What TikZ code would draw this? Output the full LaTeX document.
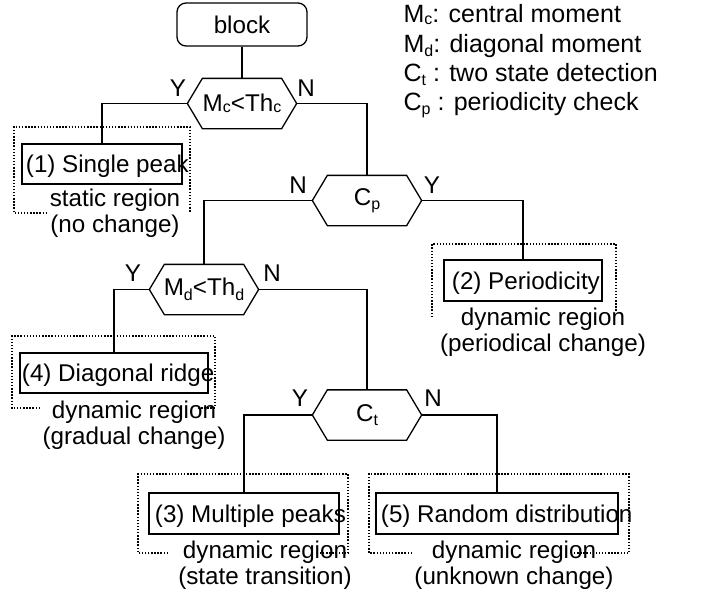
\documentclass[tikz,border=0pt]{standalone}
\usepackage{fontspec}
\setmainfont{Liberation Sans}
\newcommand{\lsubc}[1]{\raisebox{-1.2pt}{\fontsize{16}{16}\selectfont #1}}
\newcommand{\lsubd}[1]{\raisebox{-4.5pt}{\fontsize{16}{16}\selectfont #1}}
\newcommand{\hexnode}[3]{%
  \node[hexbox] (#1) at (#2) {#3};
  \draw (#1.west) -- ([xshift=15pt]#1.north west) -- ([xshift=-15pt]#1.north east)
        -- (#1.east) -- ([xshift=-15pt]#1.south east) -- ([xshift=15pt]#1.south west) -- cycle;}
\begin{document}
\begin{tikzpicture}[x=1pt,y=-1pt,line width=1.3pt,
  every node/.style={font=\fontsize{24.2}{25.5}\selectfont, inner sep=0pt},
  hexbox/.style={minimum width=108pt, minimum height=49pt},
  boxn/.style={draw, line width=1.5pt},
  txt/.style={anchor=base west},
  lab/.style={align=center},
  yn/.style={},
  leg/.style={anchor=base west, font=\fontsize{25}{25}\selectfont},
  dotbox/.style={line width=1.1pt, dash pattern=on 1.4pt off 1.7pt}]
\useasboundingbox (0,0) rectangle (707,597);

% legend
\node[leg] (l1) at (403,23) {M\lsubc{c}: central moment};
\node[leg] (l2) at (403,52) {M\lsubd{d}: diagonal moment};
\node[leg] (l3) at (403,81) {C\lsubd{t} : two state detection};
\node[leg] (l4) at (403,110) {C\lsubd{p} : periodicity check};

% top block
\node[draw, rounded corners=9pt, minimum width=130pt, minimum height=43pt, line width=1.3pt] (blk) at (242,24.5) {block};

% decisions
\hexnode{mc}{242,103.5}{M\lsubc{c}<Th\lsubc{c}}
\hexnode{cp}{367,200.5}{C\lsubd{p}}
\hexnode{md}{204,289.5}{M\lsubd{d}<Th\lsubd{d}}
\hexnode{ct}{367,415}{C\lsubd{t}}

% Y / N labels
\node[yn] (y1) at (178,88) {Y};
\node[yn] (n1) at (306,88) {N};
\node[yn] (n2) at (298,185) {N};
\node[yn] (y2) at (432,185) {Y};
\node[yn] (y3) at (133,273) {Y};
\node[yn] (n3) at (272,273) {N};
\node[yn] (y4) at (300,398) {Y};
\node[yn] (n4) at (433,398) {N};

% dotted region frames
\draw[dotbox] (47,213) -- (14,213) -- (14,127) -- (190,127) -- (190,213);
\draw[dotbox] (432,317) -- (432,244) -- (616,244) -- (616,312);
\draw[dotbox] (40,408) -- (12,408) -- (12,336) -- (215,336) -- (215,408) -- (197,408);
\draw[dotbox] (168,553) -- (138,553) -- (138,474) -- (348,474) -- (348,553) -- (320,553);
\draw[dotbox] (412,553) -- (369,553) -- (369,474) -- (629,474) -- (629,553) -- (573,553);

% result boxes
\node[boxn, minimum width=160pt, minimum height=40pt] (b1) at (102,164) {};
\node[boxn, minimum width=158pt, minimum height=41pt] (b2) at (523,280.5) {};
\node[boxn, minimum width=188pt, minimum height=40pt] (b4) at (114,373) {};
\node[boxn, minimum width=190pt, minimum height=41pt] (b3) at (244,513.5) {};
\node[boxn, minimum width=242pt, minimum height=41pt] (b5) at (497,513.5) {};

\node[txt] (t1) at (25.3,172.5) {(1) Single peak};
\node[txt] (t2) at (451.3,289) {(2) Periodicity};
\node[txt] (t4) at (21.3,381.5) {(4) Diagonal ridge};
\node[txt] (t3) at (154.3,522) {(3) Multiple peaks};
\node[txt] (t5) at (380.3,522) {(5) Random distribution};

% region labels
\node[lab] (r1) at (115,213) {static region\\(no change)};
\node[lab] (r2) at (543,332) {dynamic region\\(periodical change)};
\node[lab] (r4) at (134,425) {dynamic region\\(gradual change)};
\node[lab] (r3) at (265,565) {dynamic region\\(state transition)};
\node[lab] (r5) at (514,565) {dynamic region\\(unknown change)};

% connectors
\draw (blk.south) -- (mc.north);
\draw (mc.west) -| (b1.north);
\draw (mc.east) -| (cp.north);
\draw (cp.west) -| (md.north);
\draw (cp.east) -| (b2.north);
\draw (md.west) -| (b4.north);
\draw (md.east) -| (ct.north);
\draw (ct.west) -| (b3.north);
\draw (ct.east) -| (b5.north);
\end{tikzpicture}
\end{document}
